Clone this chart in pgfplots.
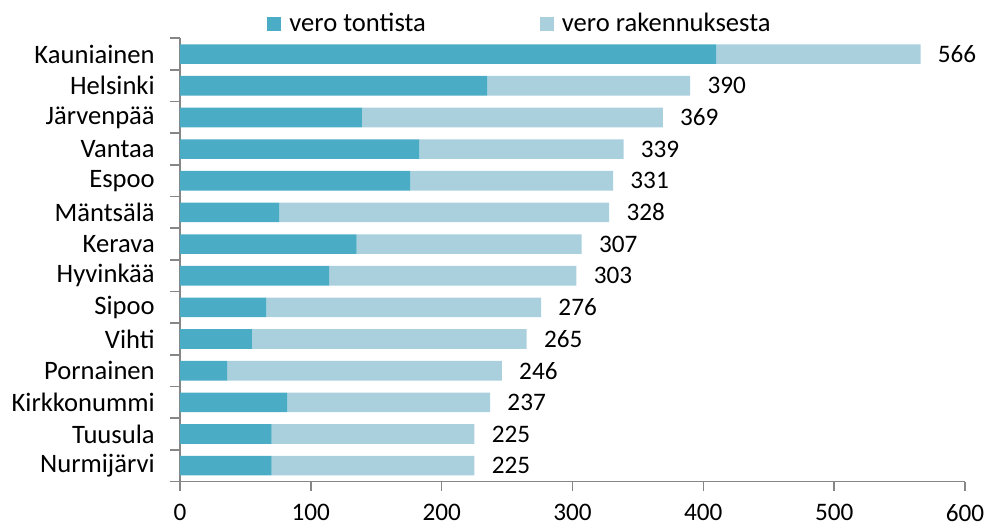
\documentclass[border=0pt]{standalone}
\usepackage{fontspec}
\setmainfont{Carlito}
\usepackage{pgfplots}
\usepackage{pgfplotstable}
\pgfplotsset{compat=1.18}
\definecolor{darkbar}{HTML}{4BACC6}
\definecolor{lightbar}{HTML}{AACFDD}
\definecolor{axisgray}{HTML}{868686}
\pgfplotstableread{
y dark light total
13 410 156 566
12 235 155 390
11 139 230 369
10 183 156 339
9 176 155 331
8 76 252 328
7 135 172 307
6 114 189 303
5 66 210 276
4 55 210 265
3 36 210 246
2 82 155 237
1 70 155 225
0 70 155 225
}\datatable
\begin{document}
\fontsize{12.6pt}{15pt}\selectfont
\begin{tikzpicture}
\useasboundingbox (0,0) rectangle (493pt,262.5pt);
\begin{axis}[
  at={(90pt,21.75pt)}, anchor=south west,
  scale only axis, width=392.5pt, height=221.6pt,
  xbar, stack plots=x, bar shift=0pt, bar width=0.62,
  xmin=0, xmax=600, ymin=-0.5, ymax=13.5,
  axis x line*=bottom, axis y line*=left,
  axis line style={axisgray, line width=0.8pt},
  xtick={0,100,...,600},
  ytick={-0.5,0.5,...,13.5},
  y tick label as interval,
  yticklabels={Nurmijärvi,Tuusula,Kirkkonummi,Pornainen,Vihti,Sipoo,Hyvinkää,Kerava,Mäntsälä,Espoo,Vantaa,Järvenpää,Helsinki,Kauniainen},
  tick align=outside, major tick length=4.75pt,
  tick style={axisgray, line width=0.8pt},
  /pgf/number format/assume math mode=true,
  xticklabel style={yshift=-2.4pt},
  yticklabel style={xshift=-3.5pt, font=\fontsize{13.3pt}{15pt}\selectfont},
  legend style={draw=none, fill=none, inner sep=0pt, at={(0,1)}, anchor=west, xshift=43.5pt, yshift=7.15pt,
    legend columns=2, /tikz/every even column/.append style={column sep=57pt},
    nodes={inner sep=0pt, anchor=west}, column sep=4pt,
    font=\fontsize{13.3pt}{15pt}\selectfont},
  legend image code/.code={\fill[#1] (0pt,-3.5pt) rectangle (7pt,3.5pt);},
]
\addplot[fill=darkbar, draw=none, bar shift=0pt] table[x=dark, y=y] {\datatable};
\addplot[fill=lightbar, draw=none, bar shift=0pt, point meta=explicit,
  nodes near coords, nodes near coords align={anchor=west},
  every node near coord/.append style={inner sep=0pt, xshift=8.5pt, text=black}]
  table[x=light, y=y, meta=total] {\datatable};
\legend{vero tontista, vero rakennuksesta}
\end{axis}
\end{tikzpicture}
\end{document}
